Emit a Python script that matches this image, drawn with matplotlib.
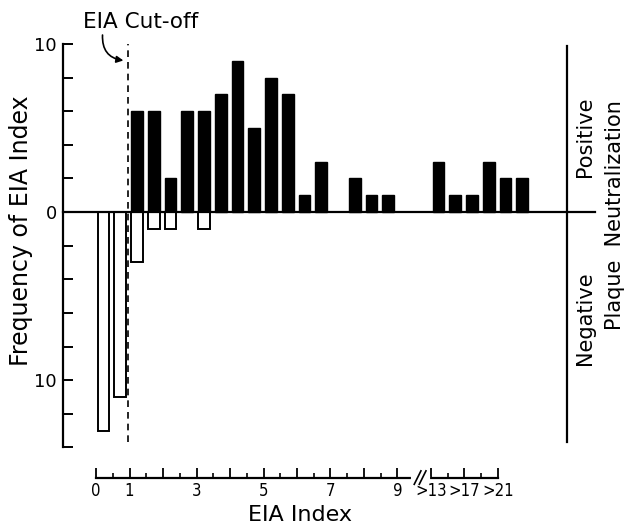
import numpy as np
import matplotlib
matplotlib.use("Agg")
import matplotlib.pyplot as plt

# bins are 0.5 wide on the EIA index axis; after the break the bins
# sit at axis positions 10..12.5 (labelled >13, >17, >21)
pos_bins = [1.0, 1.5, 2.0, 2.5, 3.0, 3.5, 4.0, 4.5, 5.0, 5.5, 6.0, 6.5,
            7.5, 8.0, 8.5, 10.0, 10.5, 11.0, 11.5, 12.0, 12.5]
pos_counts = [6, 6, 2, 6, 6, 7, 9, 5, 8, 7, 1, 3,
              2, 1, 1, 3, 1, 1, 3, 2, 2]

neg_bins = [0.0, 0.5, 1.0, 1.5, 2.0, 3.0]
neg_counts = [13, 11, 3, 1, 1, 1]

xtick_major = [0, 1, 2, 3, 4, 5, 6, 7, 8, 9, 10, 11, 12]
xtick_labels = ["0", "1", "", "3", "", "5", "", "7", "", "9", ">13", ">17", ">21"]
xtick_minor = [0.5, 1.5, 2.5, 3.5, 4.5, 5.5, 6.5, 7.5, 8.5, 10.5, 11.5]

ytick_pos = [-14, -12, -10, -8, -6, -4, -2, 0, 2, 4, 6, 8, 10]
ytick_labels = ["", "", "10", "", "", "", "", "0", "", "", "", "", "10"]

cutoff = 0.95

plt.rcParams["font.family"] = "DejaVu Sans"

fig = plt.figure(figsize=(6.35, 5.29), dpi=100)
ax = fig.add_axes([0, 0, 1, 1])
ax.set_xlim(-2.866, 16.09)
ax.set_ylim(-18.86, 12.62)

bar_w = 0.35
ax.bar(np.array(pos_bins) + 0.05, pos_counts, width=bar_w, align="edge",
       color="black", edgecolor="black", linewidth=1.0, zorder=3)
ax.bar(np.array(neg_bins) + 0.05, -np.array(neg_counts), width=bar_w, align="edge",
       color="white", edgecolor="black", linewidth=1.4, zorder=3)

# zero line and right-hand divider
ax.plot([-1, 14.9], [0, 0], color="black", lw=1.6, zorder=4)
ax.plot([14.06, 14.06], [-13.7, 9.9], color="black", lw=1.6)

# cut-off
ax.plot([cutoff, cutoff], [-13.7, 10], color="black", lw=1.2,
        linestyle=(0, (4, 3)), zorder=5)

# spines
for s in ["top", "right"]:
    ax.spines[s].set_visible(False)
ax.spines["left"].set_position(("data", -1))
ax.spines["left"].set_bounds(-14, 10)
ax.spines["left"].set_linewidth(1.6)
ax.spines["bottom"].set_position(("data", -15.8))
ax.spines["bottom"].set_bounds(0, 12)
ax.spines["bottom"].set_linewidth(1.6)

ax.set_yticks(ytick_pos)
ax.set_yticklabels(ytick_labels)
ax.tick_params(axis="y", direction="in", length=7, width=1.4, labelsize=13, pad=4)

ax.set_xticks(xtick_major)
ax.set_xticklabels(xtick_labels)
ax.set_xticks(xtick_minor, minor=True)
ax.tick_params(axis="x", which="major", direction="in", length=7, width=1.3,
               labelsize=12, pad=3)
ax.tick_params(axis="x", which="minor", direction="in", length=3.5, width=1.2)
for lbl in ax.get_xticklabels():
    lbl.set_fontstretch("condensed")

# axis break
ax.plot([9.45, 9.9], [-15.8, -15.8], color="white", lw=3, zorder=6, clip_on=False)
for dx in (0.0, 0.15):
    ax.plot([9.5 + dx, 9.7 + dx], [-16.2, -15.4], color="black", lw=1.2,
            zorder=7, clip_on=False)

# labels
ax.text(-2.25, -1.1, "Frequency of EIA Index", rotation=90, ha="center",
        va="center", fontsize=17)
ax.text(6.1, -18.0, "EIA Index", ha="center", va="center", fontsize=16)
ax.text(14.6, 4.5, "Positive", rotation=90, ha="center", va="center", fontsize=15)
ax.text(14.6, -6.3, "Negative", rotation=90, ha="center", va="center", fontsize=15)
ax.text(15.5, -0.2, "Plaque  Neutralization", rotation=90, ha="center",
        va="center", fontsize=15)

ax.text(-0.4, 11.3, "EIA Cut-off", ha="left", va="center", fontsize=15.5)
ax.annotate("", xy=(cutoff - 0.05, 9.0), xytext=(0.2, 10.7),
            arrowprops=dict(arrowstyle="-|>", color="black", lw=1.2,
                            connectionstyle="arc3,rad=0.5", mutation_scale=10))

fig.savefig("out.png", dpi=100)
